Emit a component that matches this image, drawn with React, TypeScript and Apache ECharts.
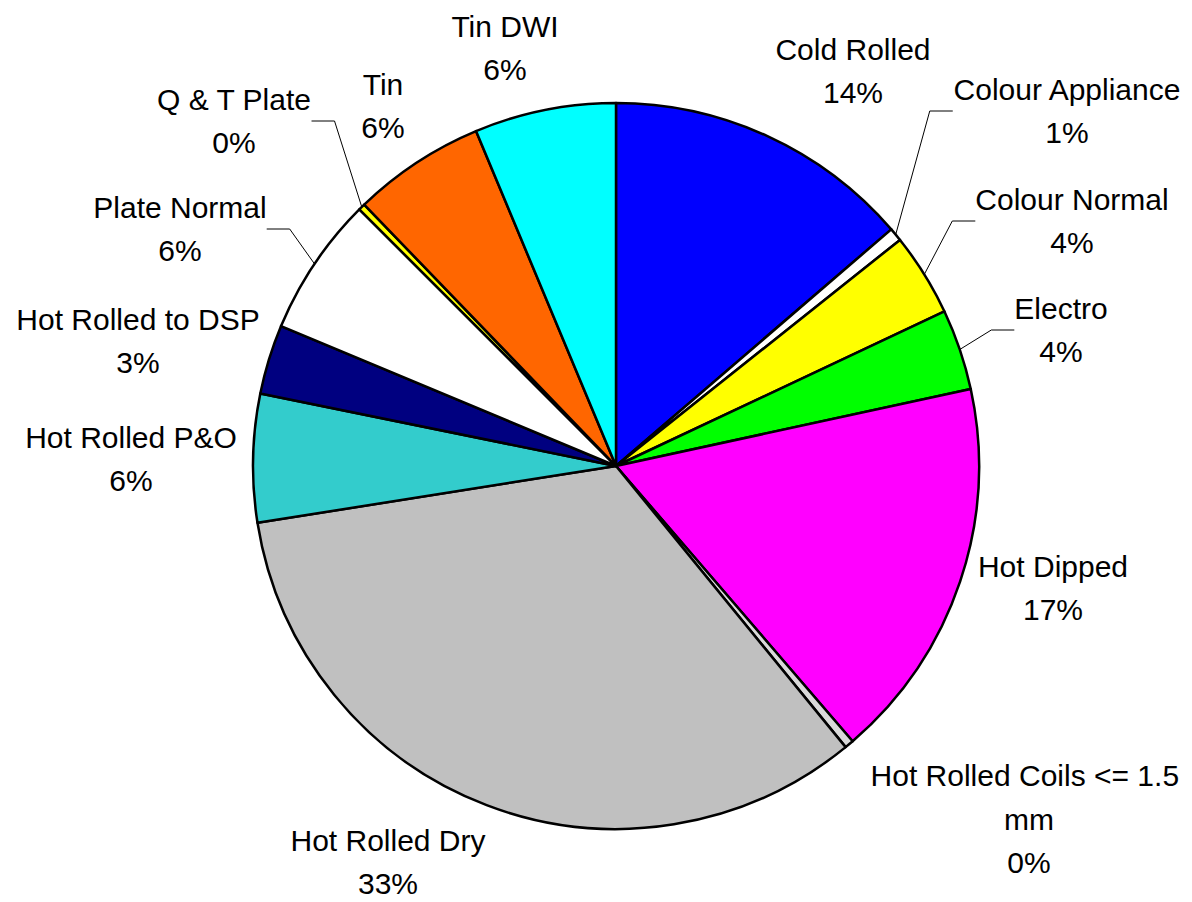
import React, { useEffect, useRef } from "react";
import * as echarts from "echarts";

const categories = [
  "Cold Rolled",
  "Colour Appliance",
  "Colour Normal",
  "Electro",
  "Hot Dipped",
  "Hot Rolled Coils <= 1.5 mm",
  "Hot Rolled Dry",
  "Hot Rolled P&O",
  "Hot Rolled to DSP",
  "Plate Normal",
  "Q & T Plate",
  "Tin",
  "Tin DWI",
];

const values = [13.7, 0.6, 3.7, 3.6, 17.1, 0.4, 33.4, 5.7, 3.1, 6.2, 0.3, 5.9, 6.3];

const colors = [
  "#0000FF",
  "#FFFFFF",
  "#FFFF00",
  "#00FF00",
  "#FF00FF",
  "#D9D9D9",
  "#C0C0C0",
  "#33CCCC",
  "#000080",
  "#FFFFFF",
  "#FFFF00",
  "#FF6600",
  "#00FFFF",
];

// which labels have leader lines
const withLine = [false, true, true, true, false, false, false, false, false, true, true, false, false];

// label block centres (pixels)
const labelPos: [number, number][] = [
  [853, 71],
  [1067, 111],
  [1072, 221],
  [1061, 330],
  [1053, 588],
  [1029, 819],
  [388, 862],
  [131, 459],
  [138, 341],
  [180, 229],
  [234, 121],
  [383, 106],
  [505, 48],
];

const FONT = "'Liberation Sans', Arial, sans-serif";

export default function App() {
  const ref = useRef<HTMLDivElement>(null);
  useEffect(() => {
    document.body.style.margin = "0";
    if (!ref.current) return;
    const chart = echarts.init(ref.current, null, { renderer: "svg" });
    const data = categories.map((name, i) => ({
      name,
      value: values[i],
      itemStyle: { color: colors[i] },
      label: i === 5 ? { width: 330, overflow: "break" as const } : {},
      labelLine: { show: withLine[i] },
    }));
    chart.setOption({
      animation: false,
      backgroundColor: "#FFFFFF",
      series: [
        {
          type: "pie",
          center: [616, 466],
          radius: [0, 363],
          startAngle: 90,
          clockwise: true,
          avoidLabelOverlap: false,
          data,
          itemStyle: { borderColor: "#000000", borderWidth: 2.5 },
          emphasis: { disabled: true },
          label: {
            show: true,
            position: "outside",
            formatter: (p: any) => `${p.name}\n${Math.round(p.percent)}%`,
            fontFamily: FONT,
            fontSize: 30,
            lineHeight: 43.5,
            color: "#000000",
            align: "center",
          },
          labelLine: {
            length: 20,
            length2: 23,
            smooth: false,
            lineStyle: { color: "#000000", width: 1 },
          },
          labelLayout: (params: any) => {
            const pos = labelPos[params.dataIndex];
            return {
              x: pos[0],
              y: pos[1],
              align: "center",
              verticalAlign: "middle",
            };
          },
        },
      ],
    });
    return () => chart.dispose();
  }, []);
  return (
    <div
      ref={ref}
      style={{ position: "absolute", left: 0, top: 0, width: 1192, height: 902 }}
    />
  );
}
